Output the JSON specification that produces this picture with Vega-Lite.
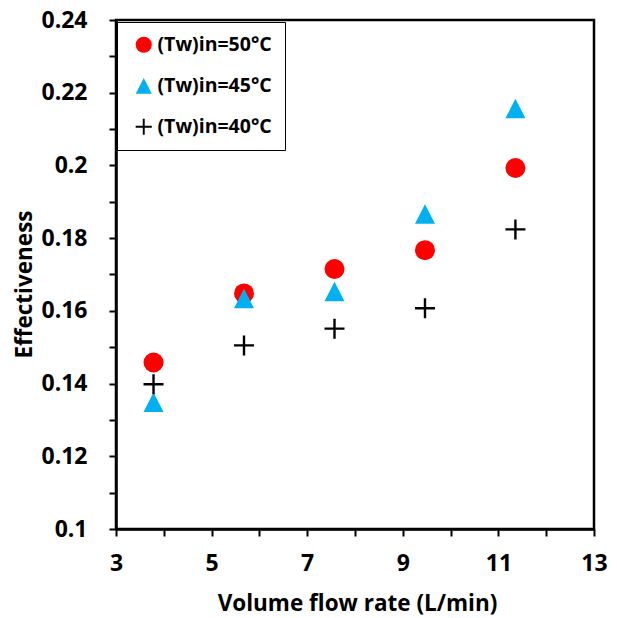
{
  "$schema": "https://vega.github.io/schema/vega-lite/v6.json",
  "autosize": "none",
  "width": 478,
  "height": 509,
  "padding": {"left": 116, "top": 20, "right": 23, "bottom": 89},
  "background": "white",
  "config": {
    "font": "Open Sans",
    "view": {"stroke": "black", "strokeWidth": 2.5},
    "axis": {
      "grid": false,
      "domainColor": "black",
      "domainWidth": 2.5,
      "tickColor": "black",
      "tickWidth": 2,
      "tickSize": 7,
      "labelFont": "Open Sans",
      "labelFontWeight": "bold",
      "labelFontSize": 23,
      "labelColor": "black",
      "titleFont": "Open Sans",
      "titleFontWeight": "bold",
      "titleFontSize": 22.5,
      "titleColor": "black"
    }
  },
  "data": {
    "values": [
      {"flow": 3.785, "eff": 0.1458, "series": "(Tw)in=50°C"},
      {"flow": 5.678, "eff": 0.1648, "series": "(Tw)in=50°C"},
      {"flow": 7.571, "eff": 0.1715, "series": "(Tw)in=50°C"},
      {"flow": 9.464, "eff": 0.1767, "series": "(Tw)in=50°C"},
      {"flow": 11.356, "eff": 0.1993, "series": "(Tw)in=50°C"},
      {"flow": 3.785, "eff": 0.1349, "series": "(Tw)in=45°C"},
      {"flow": 5.678, "eff": 0.1635, "series": "(Tw)in=45°C"},
      {"flow": 7.571, "eff": 0.1654, "series": "(Tw)in=45°C"},
      {"flow": 9.464, "eff": 0.1867, "series": "(Tw)in=45°C"},
      {"flow": 11.356, "eff": 0.2157, "series": "(Tw)in=45°C"},
      {"flow": 3.785, "eff": 0.1398, "series": "(Tw)in=40°C"},
      {"flow": 5.678, "eff": 0.1505, "series": "(Tw)in=40°C"},
      {"flow": 7.571, "eff": 0.1551, "series": "(Tw)in=40°C"},
      {"flow": 9.464, "eff": 0.1607, "series": "(Tw)in=40°C"},
      {"flow": 11.356, "eff": 0.1824, "series": "(Tw)in=40°C"}
    ]
  },
  "mark": {"type": "point", "filled": true, "opacity": 1, "size": 400, "strokeWidth": 0},
  "encoding": {
    "x": {
      "field": "flow",
      "type": "quantitative",
      "scale": {"domain": [3, 13], "nice": false, "zero": false},
      "axis": {
        "title": "Volume flow rate (L/min)",
        "values": [3, 4, 5, 6, 7, 8, 9, 10, 11, 12, 13],
        "labelExpr": "datum.value % 2 == 1 ? datum.label : ''",
        "labelPadding": 16,
        "labelFlush": false,
        "titleX": 241,
        "titleY": 81,
        "titleBaseline": "alphabetic"
      }
    },
    "y": {
      "field": "eff",
      "type": "quantitative",
      "scale": {"domain": [0.1, 0.24], "nice": false, "zero": false},
      "axis": {
        "title": "Effectiveness",
        "values": [0.1, 0.11, 0.12, 0.13, 0.14, 0.15, 0.16, 0.17, 0.18, 0.19, 0.2, 0.21, 0.22, 0.23, 0.24],
        "format": "~g",
        "labelExpr": "round(datum.value * 100) % 2 == 0 ? datum.label : ''",
        "labelPadding": 22,
        "labelFlush": false,
        "titleX": -92,
        "titleY": 264,
        "titleBaseline": "middle",
        "titleAngle": -90
      }
    },
    "color": {
      "field": "series",
      "type": "nominal",
      "sort": ["(Tw)in=50°C", "(Tw)in=45°C", "(Tw)in=40°C"],
      "scale": {
        "domain": ["(Tw)in=50°C", "(Tw)in=45°C", "(Tw)in=40°C"],
        "range": ["#FF0000", "#00B0F0", "#000000"]
      },
      "legend": {
        "title": null,
        "orient": "none",
        "legendX": 1,
        "legendY": 2,
        "padding": 13,
        "symbolOffset": 4,
        "symbolSize": 260,
        "symbolStrokeWidth": 0,
        "labelFont": "Open Sans",
        "labelFontWeight": "bold",
        "labelFontSize": 19.5,
        "labelColor": "black",
        "labelOffset": 4,
        "rowPadding": 20,
        "fillColor": "white",
        "strokeColor": "black",
        "encode": {"legend": {"update": {"strokeWidth": {"value": 2}}}}
      }
    },
    "shape": {
      "field": "series",
      "type": "nominal",
      "sort": ["(Tw)in=50°C", "(Tw)in=45°C", "(Tw)in=40°C"],
      "scale": {
        "domain": ["(Tw)in=50°C", "(Tw)in=45°C", "(Tw)in=40°C"],
        "range": [
          "circle",
          "M0,-0.95L1,1L-1,1Z",
          "M-0.12,-1H0.12V-0.12H1V0.12H0.12V1H-0.12V0.12H-1V-0.12H-0.12Z"
        ]
      }
    }
  }
}
